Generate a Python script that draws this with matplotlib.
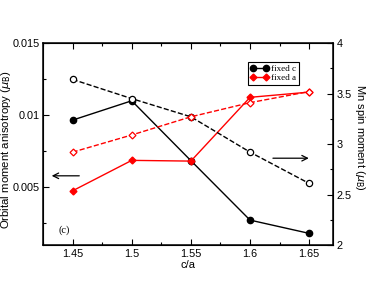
import matplotlib
matplotlib.use("Agg")
import matplotlib.pyplot as plt
from matplotlib.ticker import MultipleLocator

# c/a ratios
ca = [1.45, 1.50, 1.55, 1.60, 1.65]

# orbital moment anisotropy (left axis, solid lines)
orb_fixed_c = [0.00966, 0.0110, 0.00685, 0.00273, 0.00181]
orb_fixed_a = [0.00476, 0.00687, 0.00682, 0.01124, 0.0116]

# Mn spin moment (right axis, dashed lines)
spin_fixed_c = [3.64, 3.45, 3.27, 2.92, 2.61]
spin_fixed_a = [2.92, 3.09, 3.27, 3.41, 3.52]

sans = "Liberation Sans"
serif = "Liberation Serif"
plt.rcParams["font.family"] = sans

fig = plt.figure(figsize=(3.74, 2.89), dpi=100)
ax = fig.add_axes([0.115, 0.152, 0.775, 0.699])
ax2 = ax.twinx()

l1, = ax.plot(ca, orb_fixed_c, "-", color="black", lw=1.0,
              marker="o", ms=4.5, mfc="black", mec="black")
l2, = ax.plot(ca, orb_fixed_a, "-", color="red", lw=1.0,
              marker="D", ms=3.5, mfc="red", mec="red")
ax2.plot(ca, spin_fixed_c, "--", color="black", lw=1.0,
         marker="o", ms=4.5, mfc="white", mec="black", mew=0.9)
ax2.plot(ca, spin_fixed_a, "--", color="red", lw=1.0,
         marker="D", ms=3.5, mfc="white", mec="red", mew=0.9)

ax.set_xlim(1.425, 1.67)
ax.set_ylim(0.001, 0.015)
ax2.set_ylim(2, 4)

ax.xaxis.set_minor_locator(MultipleLocator(0.025))
ax.yaxis.set_minor_locator(MultipleLocator(0.0025))
ax2.yaxis.set_minor_locator(MultipleLocator(0.25))

ax.set_xticks(ca)
ax.set_xticklabels(["1.45", "1.5", "1.55", "1.6", "1.65"])
ax.set_yticks([0.005, 0.01, 0.015])
ax.set_yticklabels(["0.005", "0.01", "0.015"])
ax2.set_yticks([2, 2.5, 3, 3.5, 4])
ax2.set_yticklabels(["2", "2.5", "3", "3.5", "4"])

ax.tick_params(which="both", direction="in", top=True, right=False,
               labelsize=7.8, pad=2.5)
ax.tick_params(which="major", length=4, width=0.8)
ax.tick_params(which="minor", length=2.5, width=0.8)
ax2.tick_params(which="both", direction="in", labelsize=7.8, pad=2.5)
ax2.tick_params(which="major", length=4, width=0.8)
ax2.tick_params(which="minor", length=2.5, width=0.8)
for sp in ax.spines.values():
    sp.set_linewidth(1.1)

ax.set_xlabel("c/a", fontsize=8, labelpad=1)
ax.set_ylabel(r"Orbital moment anisotropy ($\mu_{\rm B}$)", fontsize=8.2,
              va="center")
ax.yaxis.set_label_coords(-0.128, 0.47)
ax2.set_ylabel(r"Mn spin moment ($\mu_{\rm B}$)", fontsize=8, rotation=270,
               va="center")
ax2.yaxis.set_label_coords(1.093, 0.535)

ax.text(0.055, 0.06, "(c)", transform=ax.transAxes, fontsize=7.5, family=serif)

# arrows pointing to the relevant axis
ax.annotate("", xy=(1.43, 0.0058), xytext=(1.458, 0.0058),
            arrowprops=dict(arrowstyle="->", color="black", lw=0.9))
ax2.annotate("", xy=(1.652, 2.86), xytext=(1.617, 2.86),
             arrowprops=dict(arrowstyle="->", color="black", lw=0.9))

leg = ax.legend([l1, l2], ["fixed c", "fixed a"], loc="upper left",
                bbox_to_anchor=(0.69, 0.93), numpoints=2, fancybox=False,
                edgecolor="black", framealpha=1, borderpad=0.3,
                handlelength=2.0, handletextpad=0.3, labelspacing=0.1,
                prop={"family": serif, "size": 6.5})
leg.get_frame().set_linewidth(0.8)

fig.savefig("out.png", dpi=100)
